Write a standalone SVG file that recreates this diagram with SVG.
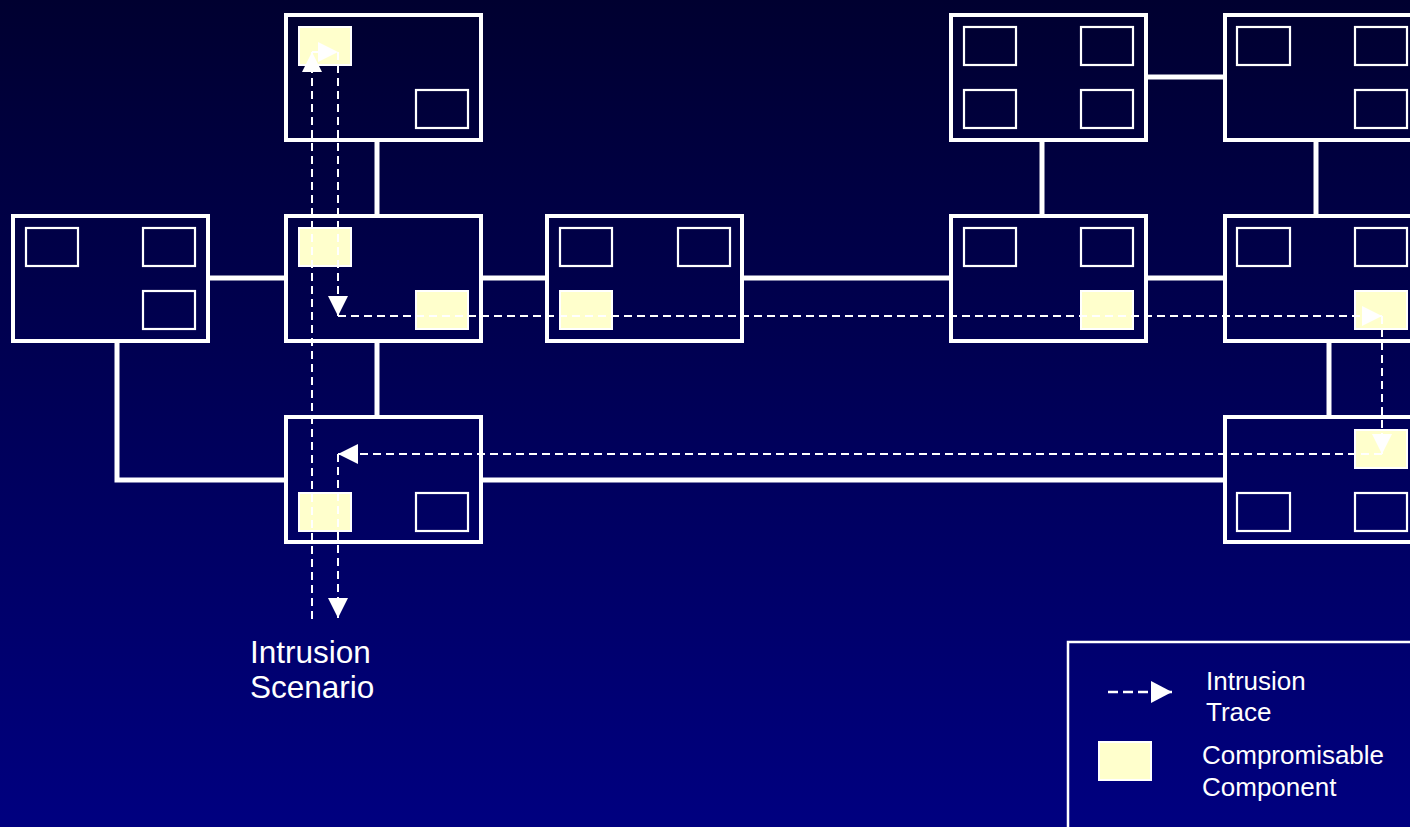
<svg xmlns="http://www.w3.org/2000/svg" width="1410" height="827" viewBox="0 0 1410 827">
<defs>
<linearGradient id="bg" x1="0" y1="0" x2="0" y2="1">
<stop offset="0" stop-color="#000030"/>
<stop offset="1" stop-color="#000080"/>
</linearGradient>
<marker id="ah" markerUnits="userSpaceOnUse" viewBox="0 0 20 20" refX="20" refY="10" markerWidth="20" markerHeight="20" orient="auto">
<path d="M0,0 L20,10 L0,20 z" fill="#FFFFFF"/>
</marker>
<marker id="ahL" markerUnits="userSpaceOnUse" viewBox="0 0 21 22" refX="21" refY="11" markerWidth="21" markerHeight="22" orient="auto">
<path d="M0,0 L21,11 L0,22 z" fill="#FFFFFF"/>
</marker>
<style>
.node{fill:none;stroke:#FFFFFF;stroke-width:4}
.slot{fill:none;stroke:#FFFFFF;stroke-width:2.2}
.comp{fill:#FFFFCC;stroke:#FFFFFF;stroke-width:2}
.link{fill:none;stroke:#FFFFFF;stroke-width:5}
.trace{fill:none;stroke:#FFFFFF;stroke-width:2;stroke-dasharray:8 5;marker-end:url(#ah)}
.lbl{font-family:"Liberation Sans",Arial,sans-serif;fill:#FFFFFF}
</style>
</defs>
<rect x="0" y="0" width="1410" height="827" fill="url(#bg)"/>

<g id="connectors">
<line class="link" x1="377" y1="140" x2="377" y2="216"/>
<line class="link" x1="377" y1="341" x2="377" y2="417"/>
<line class="link" x1="207" y1="278" x2="286" y2="278"/>
<line class="link" x1="481" y1="278" x2="547" y2="278"/>
<line class="link" x1="742" y1="278" x2="951" y2="278"/>
<line class="link" x1="1146" y1="278" x2="1225" y2="278"/>
<line class="link" x1="1146" y1="77" x2="1225" y2="77"/>
<line class="link" x1="1042" y1="140" x2="1042" y2="216"/>
<line class="link" x1="1316" y1="140" x2="1316" y2="216"/>
<line class="link" x1="1329" y1="341" x2="1329" y2="417"/>
<polyline class="link" points="117,341 117,480 286,480"/>
<line class="link" x1="481" y1="480" x2="1225" y2="480"/>
</g>

<g id="node-left">
<rect class="node" x="13" y="216" width="195" height="125"/>
<rect class="slot" x="26" y="228" width="52" height="38"/>
<rect class="slot" x="143" y="228" width="52" height="38"/>
<rect class="slot" x="143" y="291" width="52" height="38"/>
</g>
<g id="node-a">
<rect class="node" x="286" y="15" width="195" height="125"/>
<rect class="comp" x="299" y="27" width="52" height="38"/>
<rect class="slot" x="416" y="90" width="52" height="38"/>
</g>
<g id="node-b">
<rect class="node" x="286" y="216" width="195" height="125"/>
<rect class="comp" x="299" y="228" width="52" height="38"/>
<rect class="comp" x="416" y="291" width="52" height="38"/>
</g>
<g id="node-c">
<rect class="node" x="286" y="417" width="195" height="125"/>
<rect class="comp" x="299" y="493" width="52" height="38"/>
<rect class="slot" x="416" y="493" width="52" height="38"/>
</g>
<g id="node-d">
<rect class="node" x="547" y="216" width="195" height="125"/>
<rect class="slot" x="560" y="228" width="52" height="38"/>
<rect class="slot" x="678" y="228" width="52" height="38"/>
<rect class="comp" x="560" y="291" width="52" height="38"/>
</g>
<g id="node-e">
<rect class="node" x="951" y="15" width="195" height="125"/>
<rect class="slot" x="964" y="27" width="52" height="38"/>
<rect class="slot" x="1081" y="27" width="52" height="38"/>
<rect class="slot" x="964" y="90" width="52" height="38"/>
<rect class="slot" x="1081" y="90" width="52" height="38"/>
</g>
<g id="node-f">
<rect class="node" x="1225" y="15" width="195" height="125"/>
<rect class="slot" x="1237" y="27" width="53" height="38"/>
<rect class="slot" x="1355" y="27" width="52" height="38"/>
<rect class="slot" x="1355" y="90" width="52" height="38"/>
</g>
<g id="node-g">
<rect class="node" x="951" y="216" width="195" height="125"/>
<rect class="slot" x="964" y="228" width="52" height="38"/>
<rect class="slot" x="1081" y="228" width="52" height="38"/>
<rect class="comp" x="1081" y="291" width="52" height="38"/>
</g>
<g id="node-h">
<rect class="node" x="1225" y="216" width="195" height="125"/>
<rect class="slot" x="1237" y="228" width="53" height="38"/>
<rect class="slot" x="1355" y="228" width="52" height="38"/>
<rect class="comp" x="1355" y="291" width="52" height="38"/>
</g>
<g id="node-i">
<rect class="node" x="1225" y="417" width="195" height="125"/>
<rect class="comp" x="1355" y="430" width="52" height="38"/>
<rect class="slot" x="1237" y="493" width="53" height="38"/>
<rect class="slot" x="1355" y="493" width="52" height="38"/>
</g>

<g id="trace">
<line class="trace" x1="312" y1="619" x2="312" y2="52"/>
<line class="trace" x1="312" y1="52" x2="338" y2="52"/>
<line class="trace" x1="338" y1="52" x2="338" y2="316"/>
<line class="trace" x1="338" y1="316" x2="1382" y2="316"/>
<line class="trace" x1="1382" y1="316" x2="1382" y2="454"/>
<line class="trace" x1="1382" y1="454" x2="338" y2="454"/>
<line class="trace" x1="338" y1="454" x2="338" y2="618"/>
</g>

<g id="scenario-label">
<text class="lbl" font-size="31.5" x="250" y="663">Intrusion</text>
<text class="lbl" font-size="31.5" x="250" y="698">Scenario</text>
</g>

<g id="legend">
<rect x="1068" y="642" width="360" height="200" fill="none" stroke="#FFFFFF" stroke-width="2.5"/>
<line x1="1108" y1="692" x2="1172" y2="692" stroke="#FFFFFF" stroke-width="2.5" stroke-dasharray="10 5" marker-end="url(#ahL)"/>
<text class="lbl" font-size="26" x="1206" y="690">Intrusion</text>
<text class="lbl" font-size="26" x="1206" y="721">Trace</text>
<rect class="comp" x="1099" y="742" width="52" height="38"/>
<text class="lbl" font-size="26" x="1202" y="764">Compromisable</text>
<text class="lbl" font-size="26" x="1202" y="796">Component</text>
</g>
</svg>
